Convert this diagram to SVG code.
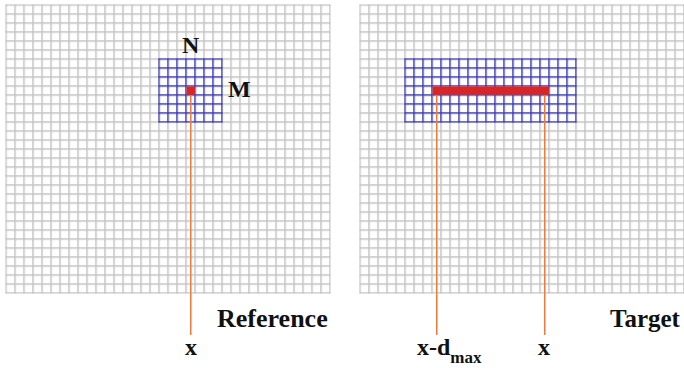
<svg xmlns="http://www.w3.org/2000/svg" width="684" height="368" viewBox="0 0 684 368">
<style>
text{font-family:"Liberation Serif","DejaVu Serif","Times New Roman",serif;font-weight:bold;fill:#111}
.lbl{font-size:24px}
.big{font-size:25px}
.sub{font-size:17px}
.lead{stroke:#f07a3a;stroke-width:1.5;fill:none}
.red{fill:#d82626}
</style>
<defs>
<pattern id="gl" patternUnits="userSpaceOnUse" x="5.25" y="4.25" width="9" height="9">
<rect x="0" y="0" width="1.5" height="9" fill="#c4c4c4"/><rect x="0" y="0" width="9" height="1.5" fill="#c4c4c4"/>
</pattern>
<pattern id="gr" patternUnits="userSpaceOnUse" x="359.25" y="4.25" width="9" height="9">
<rect x="0" y="0" width="1.5" height="9" fill="#c4c4c4"/><rect x="0" y="0" width="9" height="1.5" fill="#c4c4c4"/>
</pattern>
<pattern id="bl" patternUnits="userSpaceOnUse" x="158.25" y="58.25" width="9" height="9">
<rect x="0" y="0" width="1.5" height="9" fill="#3a3ab0"/><rect x="0" y="0" width="9" height="1.5" fill="#3a3ab0"/>
</pattern>
<pattern id="br" patternUnits="userSpaceOnUse" x="404.25" y="58.25" width="9" height="9">
<rect x="0" y="0" width="1.5" height="9" fill="#3a3ab0"/><rect x="0" y="0" width="9" height="1.5" fill="#3a3ab0"/>
</pattern>
</defs>
<rect width="684" height="368" fill="#fff"/>
<g id="reference-grid">
<rect x="5.25" y="4.25" width="325.5" height="289.5" fill="url(#gl)"/>
<rect x="159" y="59" width="63" height="63" fill="#fff"/>
<rect x="158.25" y="58.25" width="64.5" height="64.5" fill="url(#bl)"/>
<rect class="red" x="186.5" y="86.5" width="8.5" height="8.5"/>
<text class="lbl" x="182" y="53">N</text>
<text class="lbl" x="228" y="97">M</text>
<text class="big" x="217" y="327" style="font-size:26px">Reference</text>
</g>
<g id="target-grid">
<rect x="359.25" y="4.25" width="325.5" height="289.5" fill="url(#gr)"/>
<rect x="405" y="59" width="171" height="63" fill="#fff"/>
<rect x="404.25" y="58.25" width="172.5" height="64.5" fill="url(#br)"/>
<rect class="red" x="432.5" y="86.5" width="116.5" height="8.5"/>
<text class="big" x="610" y="327">Target</text>
</g>
<g id="connectors">
<line class="lead" x1="190.75" y1="95" x2="190.75" y2="335"/>
<line class="lead" x1="436.75" y1="95" x2="436.75" y2="335"/>
<line class="lead" x1="544.75" y1="95" x2="544.75" y2="335"/>
</g>
<g id="labels">
<text class="lbl" x="185" y="355">x</text>
<text class="lbl" x="417" y="355">x-d<tspan class="sub" dy="8">max</tspan></text>
<text class="lbl" x="538" y="355">x</text>
</g>
</svg>
